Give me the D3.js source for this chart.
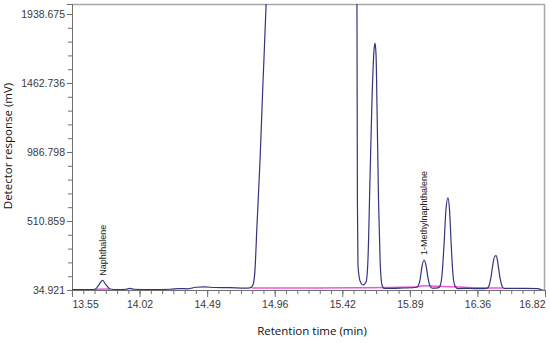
<!DOCTYPE html>
<html>
<head>
<meta charset="utf-8">
<script src="https://cdn.jsdelivr.net/npm/d3@7"></script>
<style>
  body { margin: 0; background: #fff; }
  svg { display: block; }
</style>
</head>
<body>
<div id="chart"></div>
<script>

// axis ticks
var xTickLabels = ["13.55", "14.02", "14.49", "14.96", "15.42", "15.89", "16.36", "16.82"];
var yTickValues = [34.921, 510.859, 986.798, 1462.736, 1938.675];
var yTickLabels = ["34.921", "510.859", "986.798", "1462.736", "1938.675"];

// detector trace (min, mV)
var traceTime = [
  13.550, 13.674, 13.709, 13.730, 13.761, 13.785, 13.813, 13.868, 13.923, 13.951,
  13.979, 14.089, 14.227, 14.297, 14.352, 14.407, 14.469, 14.539, 14.642, 14.746,
  14.780, 14.801, 14.815, 14.829, 14.850, 14.871, 14.892, 14.905, 14.950, 15.200,
  15.470, 15.513, 15.520, 15.523, 15.527, 15.541, 15.562, 15.583, 15.596, 15.610,
  15.624, 15.638, 15.645, 15.652, 15.659, 15.669, 15.680, 15.693, 15.707, 15.818,
  15.921, 15.942, 15.956, 15.970, 15.983, 15.997, 16.011, 16.025, 16.039, 16.080,
  16.094, 16.108, 16.122, 16.135, 16.149, 16.160, 16.170, 16.184, 16.198, 16.219,
  16.302, 16.370, 16.419, 16.432, 16.446, 16.460, 16.474, 16.484, 16.495, 16.509,
  16.523, 16.536, 16.647, 16.771, 16.799, 16.820
];
var traceValue = [
  38, 38, 40, 62, 101, 70, 42, 38, 40, 46,
  40, 38, 40, 45, 43, 54, 56, 52, 51, 48,
  50, 70, 174, 484, 932, 1484, 2008, 2450, 3500, 4200,
  3500, 2450, 2008, 656, 207, 98, 70, 90, 242, 794,
  1346, 1690, 1738, 1655, 1276, 656, 242, 70, 46, 48,
  52, 62, 104, 200, 242, 207, 118, 62, 48, 50,
  62, 138, 346, 587, 670, 587, 380, 138, 62, 45,
  46, 44, 46, 62, 118, 214, 270, 270, 214, 118,
  62, 46, 46, 45, 35, 32
];

// integration baselines
var base1Time = [13.709, 13.813];
var base1Value = [40, 42];
var base2Time = [14.794, 15.500, 15.921, 15.983, 16.073, 16.232, 16.370, 16.529];
var base2Value = [48, 50, 55, 64, 60, 55, 50, 48];

// peak labels
var peakNames = ["Naphthalene", "1-Methylnaphthalene"];
var peakTimes = [13.761, 15.983];
var peakLabelValues = [112, 255];

var width_outer = 550, height_outer = 343;
var margin = {left: 72, right: 5, top: 4, bottom: 53};
var width_inner = width_outer - margin.left - margin.right;
var height_inner = height_outer - margin.top - margin.bottom;

var svg = d3.select("#chart").append("svg")
  .attr("width", width_outer)
  .attr("height", height_outer);

var inner = svg.append("g")
  .attr("transform", "translate(" + margin.left + "," + margin.top + ")");

// scales
var xMin = 13.55, xMax = 16.82;
var yTop = 2007.6;
var xScale = d3.scaleLinear().domain([xMin, xMax]).range([0, width_inner]);
var yScale = d3.scaleLinear().domain([34.921, yTop]).range([height_inner, 0]);

var xStep = (xMax - xMin) / 7;
var xMajor = d3.range(8).map(function(i) { return xMin + i * xStep; });
var xMinor = d3.range(43).map(function(i) { return xMin + i * xStep / 6; });
var yStep = yTickValues[1] - yTickValues[0];
var yMinor = d3.range(22).map(function(i) { return yTickValues[0] + i * yStep / 5; })
  .filter(function(v) { return v <= yTop; });

// frame (top/right)
inner.append("path")
  .attr("d", "M0,0.5H" + (width_inner - 0.5) + "V" + height_inner)
  .attr("fill", "none")
  .attr("stroke", "#a9a9a9")
  .attr("stroke-width", 1.5);

// minor ticks
inner.append("g")
  .attr("class", "x_minor")
  .attr("transform", "translate(0," + height_inner + ")")
  .call(d3.axisBottom(xScale).tickValues(xMinor).tickSize(4).tickFormat(""));

inner.append("g")
  .attr("class", "y_minor")
  .call(d3.axisLeft(yScale).tickValues(yMinor).tickSize(4).tickFormat(""));

// major axes
var gx = inner.append("g")
  .attr("class", "x_axis")
  .attr("transform", "translate(0," + height_inner + ")")
  .call(d3.axisBottom(xScale).tickValues(xMajor).tickSize(7).tickPadding(4)
    .tickFormat(function(d, i) { return xTickLabels[i]; }));

// first label starts at its tick, last one ends at it
gx.selectAll(".tick text")
  .attr("text-anchor", function(d, i) {
    if (i == 0) return "start";
    if (i == xMajor.length - 1) return "end";
    return "middle";
  });

inner.append("g")
  .attr("class", "y_axis")
  .call(d3.axisLeft(yScale).tickValues(yTickValues).tickSize(5).tickPadding(2)
    .tickFormat(function(d, i) { return yTickLabels[i]; }));

svg.selectAll(".domain").attr("stroke", "#707070");
svg.selectAll(".tick line").attr("stroke", "#707070");
svg.selectAll(".tick text")
  .attr("fill", "#3a3a3a")
  .style("font-family", "'Liberation Sans', Arial, sans-serif")
  .style("font-size", "10.5px");

// clip
inner.append("clipPath").attr("id", "clip")
  .append("rect").attr("width", width_inner).attr("height", height_inner);

var plots = inner.append("g").attr("clip-path", "url(#clip)");

var line = d3.line()
  .x(function(d) { return xScale(d[0]); })
  .y(function(d) { return yScale(d[1]); })
  .curve(d3.curveMonotoneX);

function pairs(t, v) {
  return t.map(function(d, i) { return [d, v[i]]; });
}

plots.append("path")
  .datum(pairs(base1Time, base1Value))
  .attr("d", line)
  .attr("fill", "none")
  .attr("stroke", "#e85ad8")
  .attr("stroke-width", 1.5);

plots.append("path")
  .datum(pairs(base2Time, base2Value))
  .attr("d", line)
  .attr("fill", "none")
  .attr("stroke", "#e85ad8")
  .attr("stroke-width", 1.5);

plots.append("path")
  .datum(pairs(traceTime, traceValue))
  .attr("d", line)
  .attr("fill", "none")
  .attr("stroke", "#34347e")
  .attr("stroke-width", 1.2);

// peak labels
inner.selectAll(".peak_label")
  .data(peakNames)
  .enter().append("text")
  .attr("class", "peak_label")
  .attr("transform", function(d, i) {
    return "translate(" + (xScale(peakTimes[i]) + 3) + "," + (yScale(peakLabelValues[i]) - 3) + ") rotate(-90)";
  })
  .attr("fill", "#222")
  .style("font-family", "'Liberation Sans', Arial, sans-serif")
  .style("font-size", "9px")
  .text(function(d) { return d; });

// axis titles
svg.append("text")
  .attr("x", 312)
  .attr("y", 335)
  .attr("text-anchor", "middle")
  .attr("fill", "#111")
  .style("font-family", "'Open Sans', sans-serif")
  .style("font-size", "11.5px")
  .text("Retention time (min)");

svg.append("text")
  .attr("transform", "translate(12,146) rotate(-90)")
  .attr("text-anchor", "middle")
  .attr("fill", "#111")
  .style("font-family", "'Open Sans', sans-serif")
  .style("font-size", "11.5px")
  .text("Detector response (mV)");

</script>
</body>
</html>
